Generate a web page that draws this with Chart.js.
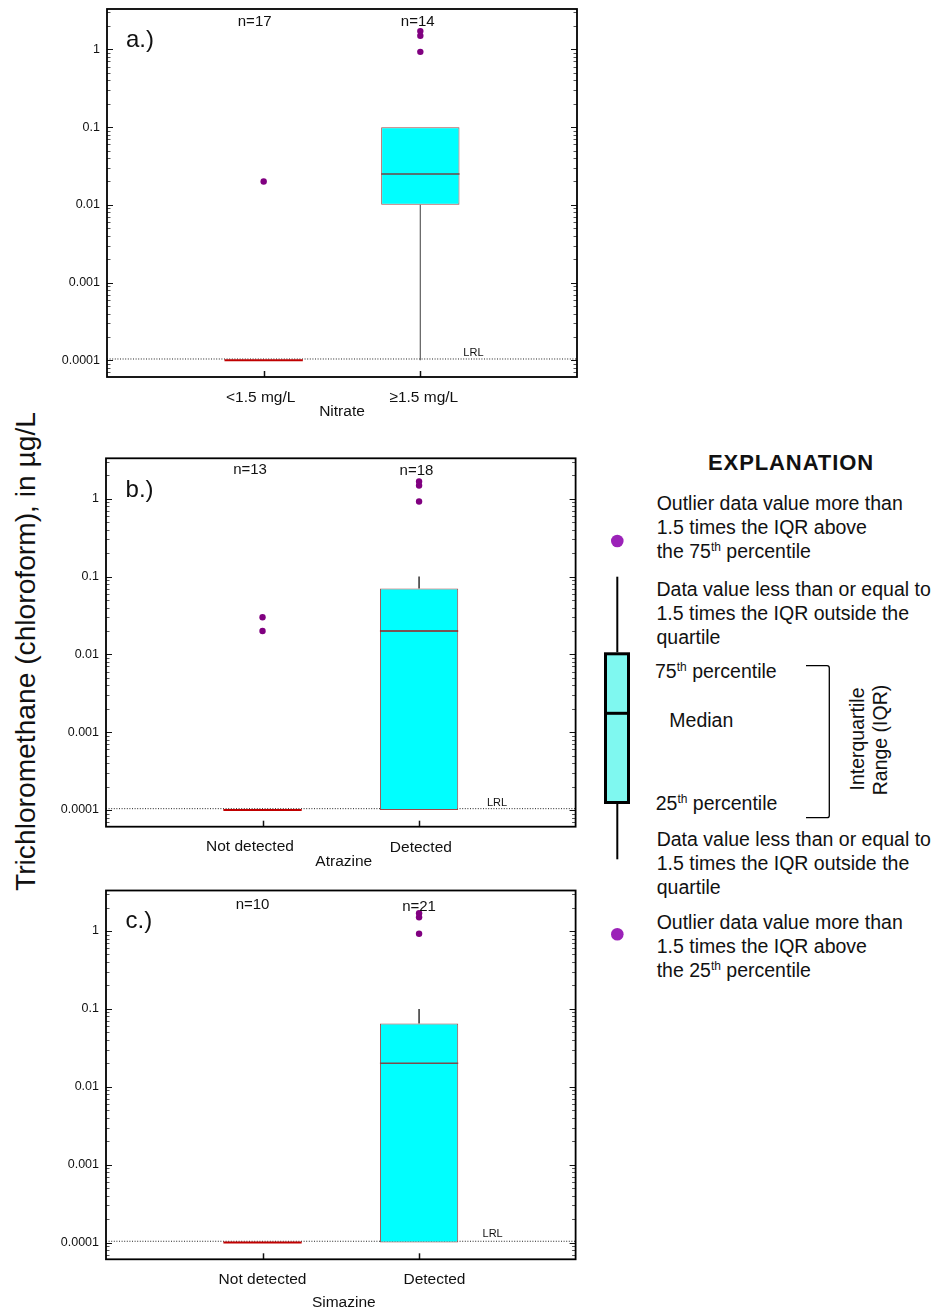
<!DOCTYPE html>
<html>
<head>
<meta charset="utf-8">
<script src="https://cdn.jsdelivr.net/npm/chart.js@4.4.1/dist/chart.umd.min.js"></script>
<style>
html,body{margin:0;padding:0;background:#fff;}
body{width:938px;height:1311px;position:relative;overflow:hidden;font-family:"Liberation Sans",Arial,sans-serif;color:#111;}
canvas{position:absolute;left:0;}
#ov{position:absolute;left:0;top:0;}
.t{position:absolute;font-size:19.5px;line-height:24px;white-space:nowrap;}
.s{font-size:12px;position:relative;top:-7px;}
.h{position:absolute;font-size:22px;font-weight:bold;letter-spacing:0.9px;line-height:26px;white-space:nowrap;}
</style>
</head>
<body>
<svg id="ov" width="938" height="1311">
  <text x="25" y="651.5" transform="rotate(-90 25 651.5)" text-anchor="middle" dominant-baseline="central" font-size="28.2" font-family="Liberation Sans, Arial, sans-serif" fill="#111">Trichloromethane (chloroform), in µg/L</text>
  <circle cx="617.3" cy="541" r="6.3" fill="#9b22b8"/>
  <line x1="617.3" y1="576.7" x2="617.3" y2="652.3" stroke="#000" stroke-width="2"/>
  <rect x="605.5" y="653.8" width="23" height="148.7" fill="#7ff8f0" stroke="#000" stroke-width="3"/>
  <line x1="605.5" y1="713.3" x2="628.5" y2="713.3" stroke="#000" stroke-width="3"/>
  <line x1="617.3" y1="804" x2="617.3" y2="859.3" stroke="#000" stroke-width="2"/>
  <circle cx="617.3" cy="934.3" r="6.3" fill="#9b22b8"/>
  <path d="M806 665.7 H827 Q829.3 665.7 829.3 668 V815.4 Q829.3 817.7 827 817.7 H806" fill="none" stroke="#000" stroke-width="1.3"/>
  <text x="857" y="739" transform="rotate(-90 857 739)" text-anchor="middle" dominant-baseline="central" font-size="19.5" font-family="Liberation Sans, Arial, sans-serif" fill="#111">Interquartile</text>
  <text x="880" y="740" transform="rotate(-90 880 740)" text-anchor="middle" dominant-baseline="central" font-size="19.5" font-family="Liberation Sans, Arial, sans-serif" fill="#111">Range (IQR)</text>
</svg>

<div class="h" style="left:708px;top:449.5px;">EXPLANATION</div>
<div class="t" style="left:656.7px;top:490.7px;">Outlier data value more than</div>
<div class="t" style="left:656.7px;top:515px;">1.5 times the IQR above</div>
<div class="t" style="left:656.7px;top:539px;">the 75<span class="s">th</span> percentile</div>
<div class="t" style="left:656.5px;top:577.3px;">Data value less than or equal to</div>
<div class="t" style="left:656.5px;top:601.3px;">1.5 times the IQR outside the</div>
<div class="t" style="left:656.5px;top:625.3px;">quartile</div>
<div class="t" style="left:655px;top:658.7px;">75<span class="s">th</span> percentile</div>
<div class="t" style="left:669.3px;top:708px;">Median</div>
<div class="t" style="left:655.7px;top:791.3px;">25<span class="s">th</span> percentile</div>
<div class="t" style="left:656.7px;top:827.3px;">Data value less than or equal to</div>
<div class="t" style="left:656.7px;top:851.3px;">1.5 times the IQR outside the</div>
<div class="t" style="left:656.7px;top:875.3px;">quartile</div>
<div class="t" style="left:656.7px;top:909.7px;">Outlier data value more than</div>
<div class="t" style="left:656.7px;top:934.2px;">1.5 times the IQR above</div>
<div class="t" style="left:656.7px;top:958px;">the 25<span class="s">th</span> percentile</div>

<canvas id="ca" width="600" height="441" style="top:-11px;width:600px;height:441px;"></canvas>
<canvas id="cb" width="600" height="442" style="top:438px;width:600px;height:442px;"></canvas>
<canvas id="cc" width="600" height="441" style="top:870px;width:600px;height:441px;"></canvas>

<script>
// ---------------- DATA ----------------
const yTickValues = [0.0001, 0.001, 0.01, 0.1, 1];
const yTickLabels = ['0.0001', '0.001', '0.01', '0.1', '1'];
const LRL_VALUE = 0.000104;
const LRL_LABEL = 'LRL';

// a.) Nitrate
const letterA = 'a.)';
const titleA = 'Nitrate';
const categoriesA = ['<1.5 mg/L', '≥1.5 mg/L'];
const countsA = ['n=17', 'n=14'];
const q1A = [0.0001, 0.01];
const medianA = [0.0001, 0.025];
const q3A = [0.0001, 0.1];
const whiskerLowA = [0.0001, 0.0001];
const whiskerHighA = [0.0001, 0.1];
const outliersA = [[0.02], [0.93, 1.5, 1.72]];

// b.) Atrazine
const letterB = 'b.)';
const titleB = 'Atrazine';
const categoriesB = ['Not detected', 'Detected'];
const countsB = ['n=13', 'n=18'];
const q1B = [0.0001, 0.0001];
const medianB = [0.0001, 0.02];
const q3B = [0.0001, 0.07];
const whiskerLowB = [0.0001, 0.0001];
const whiskerHighB = [0.0001, 0.1];
const outliersB = [[0.02, 0.03], [0.92, 1.48, 1.67]];

// c.) Simazine
const letterC = 'c.)';
const titleC = 'Simazine';
const categoriesC = ['Not detected', 'Detected'];
const countsC = ['n=10', 'n=21'];
const q1C = [0.0001, 0.0001];
const medianC = [0.0001, 0.02];
const q3C = [0.0001, 0.065];
const whiskerLowC = [0.0001, 0.0001];
const whiskerHighC = [0.0001, 0.1];
const outliersC = [[], [0.92, 1.5, 1.69]];

// ---------------- STYLE / LAYOUT ----------------
const FONT = '"Liberation Sans", Arial, sans-serif';
const Y_MIN = 6.1e-5, Y_MAX = 3.31;
const X_MIN = 0, X_MAX = 3;
const BOX_HALF = 0.25;
const CANVAS_W = 600;

const LAYOUTS = [
  {canvasTop: -11, canvasH: 441, areaTop: 9,     areaBottom: 377,    areaLeft: 107, areaRight: 577},
  {canvasTop: 438, canvasH: 442, areaTop: 458.3, areaBottom: 826.7,  areaLeft: 106, areaRight: 575.6},
  {canvasTop: 870, canvasH: 441, areaTop: 890.5, areaBottom: 1259.3, areaLeft: 106, areaRight: 575.6}
];
const TEXTPOS = [
  {letterDx: 19, letterDy: 31, countDx: [-9, -2.6], countDy: [13, 13], labelDx: [-3, 3.5], labelDy: [20.3, 20.3], titleDx: 0, titleDy: 34.7, lrlX: 2.339, lrlDy: 6.5, whisker: '#6a6a6a', median: '#6e4646'},
  {letterDx: 19.6, letterDy: 32, countDx: [-12.5, -2.6], countDy: [11.7, 13], labelDx: [-12.6, 1.8], labelDy: [20, 21.3], titleDx: 3, titleDy: 35.3, lrlX: 2.498, lrlDy: 5.5, whisker: '#111', median: '#a01c1c'},
  {letterDx: 19.6, letterDy: 31.2, countDx: [-10, 0], countDy: [14.8, 16.8], labelDx: [0, 15.4], labelDy: [20.7, 20.7], titleDx: 3, titleDy: 43.7, lrlX: 2.47, lrlDy: 7, whisker: '#111', median: '#7a4c4c'}
];

function buildLogTicks() {
  const ticks = [];
  const decades = [yTickValues[0] / 10].concat(yTickValues);
  decades.forEach(d => {
    if (yTickValues.indexOf(d) >= 0 && d >= Y_MIN && d <= Y_MAX) ticks.push({value: d, major: true});
    for (let m = 2; m <= 9; m++) {
      const v = d * m;
      if (v >= Y_MIN && v <= Y_MAX) ticks.push({value: v, major: false});
    }
  });
  return ticks.sort((a, b) => a.value - b.value);
}

function makePanel(id, L, T, D) {
  const boxData = D.categories.map((c, i) => ({x: i + 1, y: [D.q1[i], D.q3[i]]}));
  const medData = [];
  const flatData = [];
  const whiskData = [];
  const outData = [];
  D.categories.forEach((c, i) => {
    const target = D.q3[i] > D.q1[i] ? medData : flatData;
    target.push({x: i + 1 - BOX_HALF, y: D.median[i]}, {x: i + 1 + BOX_HALF, y: D.median[i]}, {x: i + 1 + BOX_HALF, y: null});
    whiskData.push({x: i + 1, y: D.whiskerLow[i]}, {x: i + 1, y: D.q1[i]}, {x: i + 1, y: null},
                   {x: i + 1, y: D.q3[i]}, {x: i + 1, y: D.whiskerHigh[i]}, {x: i + 1, y: null});
    D.outliers[i].forEach(v => outData.push({x: i + 1, y: v}));
  });
  const lrlData = [{x: X_MIN, y: LRL_VALUE}, {x: X_MAX, y: LRL_VALUE}];

  const decor = {
    id: 'decor_' + id,
    afterDraw(chart) {
      const c = chart.ctx, a = chart.chartArea, xs = chart.scales.x, ys = chart.scales.y;
      c.save();
      c.lineWidth = 1;
      ys.ticks.forEach(t => {
        const py = Math.round(ys.getPixelForValue(t.value)) + 0.5;
        const len = t.major ? 6 : 3.5;
        c.strokeStyle = t.major ? '#111' : '#555';
        c.beginPath();
        c.moveTo(a.left, py); c.lineTo(a.left + len, py);
        c.moveTo(a.right - len, py); c.lineTo(a.right, py);
        c.stroke();
      });
      c.strokeStyle = '#111'; c.lineWidth = 1.5;
      xs.ticks.forEach(t => {
        const px = Math.round(xs.getPixelForValue(t.value)) + 0.5;
        c.beginPath(); c.moveTo(px, a.bottom); c.lineTo(px, a.bottom - 6); c.stroke();
      });
      c.lineWidth = 1.8; c.strokeStyle = '#000';
      c.strokeRect(a.left, a.top, a.right - a.left, a.bottom - a.top);
      c.fillStyle = '#111'; c.textBaseline = 'middle'; c.textAlign = 'center';
      c.font = '15.5px ' + FONT;
      D.categories.forEach((lab, i) => c.fillText(lab, xs.getPixelForValue(i + 1) + T.labelDx[i], a.bottom + T.labelDy[i]));
      c.fillText(D.title, (a.left + a.right) / 2 + T.titleDx, a.bottom + T.titleDy);
      c.font = '15px ' + FONT;
      D.counts.forEach((lab, i) => c.fillText(lab, xs.getPixelForValue(i + 1) + T.countDx[i], a.top + T.countDy[i]));
      c.font = '11px ' + FONT;
      c.fillText(LRL_LABEL, xs.getPixelForValue(T.lrlX), ys.getPixelForValue(LRL_VALUE) - T.lrlDy);
      c.font = '24px ' + FONT; c.textAlign = 'left';
      c.fillText(D.letter, a.left + T.letterDx, a.top + T.letterDy);
      c.restore();
    }
  };

  return new Chart(document.getElementById(id), {
    type: 'bar',
    data: {
      datasets: [
        {type: 'line', label: 'LRL', data: lrlData, borderColor: '#222', borderWidth: 1, borderDash: [1, 1.6], pointRadius: 0, order: 6},
        {type: 'line', label: 'Whiskers', data: whiskData, borderColor: T.whisker, borderWidth: 1.3, pointRadius: 0, spanGaps: false, order: 5},
        {type: 'bar', label: 'IQR', data: boxData, backgroundColor: '#00ffff', borderColor: '#a34848', borderWidth: 1, borderSkipped: false, categoryPercentage: 1, barPercentage: 0.5, order: 4},
        {type: 'line', label: 'Zero IQR', data: flatData, borderColor: '#c00000', borderWidth: 2, pointRadius: 0, spanGaps: false, order: 3},
        {type: 'line', label: 'Median', data: medData, borderColor: T.median, borderWidth: 1.5, pointRadius: 0, spanGaps: false, order: 2},
        {type: 'line', label: 'Outliers', data: outData, showLine: false, pointRadius: 3.2, pointBackgroundColor: '#800080', pointBorderWidth: 0, pointBorderColor: '#800080', order: 1}
      ]
    },
    options: {
      responsive: false, animation: false, devicePixelRatio: 1, events: [],
      layout: {padding: {left: 0, right: CANVAS_W - L.areaRight, top: L.areaTop - L.canvasTop, bottom: 0}},
      plugins: {legend: {display: false}, tooltip: {enabled: false}},
      scales: {
        x: {
          type: 'linear', min: X_MIN, max: X_MAX, offset: false,
          grid: {display: false, drawTicks: false, offset: false}, border: {display: false},
          ticks: {display: false},
          afterBuildTicks: s => { s.ticks = D.categories.map((c, i) => ({value: i + 1})); },
          afterFit: s => { s.height = L.canvasTop + L.canvasH - L.areaBottom; }
        },
        y: {
          type: 'logarithmic', min: Y_MIN, max: Y_MAX,
          grid: {display: false, drawTicks: false}, border: {display: false},
          ticks: {
            autoSkip: false, padding: 7, color: '#111', font: {family: FONT, size: 12.5},
            callback: (value, index, ticks) => {
              const t = ticks[index];
              if (!t || !t.major) return '';
              const k = yTickValues.indexOf(t.value);
              return k >= 0 ? yTickLabels[k] : '';
            }
          },
          afterBuildTicks: s => { s.ticks = buildLogTicks(); },
          afterFit: s => { s.width = L.areaLeft; }
        }
      }
    },
    plugins: [decor]
  });
}

makePanel('ca', LAYOUTS[0], TEXTPOS[0], {letter: letterA, title: titleA, categories: categoriesA, counts: countsA, q1: q1A, median: medianA, q3: q3A, whiskerLow: whiskerLowA, whiskerHigh: whiskerHighA, outliers: outliersA});
makePanel('cb', LAYOUTS[1], TEXTPOS[1], {letter: letterB, title: titleB, categories: categoriesB, counts: countsB, q1: q1B, median: medianB, q3: q3B, whiskerLow: whiskerLowB, whiskerHigh: whiskerHighB, outliers: outliersB});
makePanel('cc', LAYOUTS[2], TEXTPOS[2], {letter: letterC, title: titleC, categories: categoriesC, counts: countsC, q1: q1C, median: medianC, q3: q3C, whiskerLow: whiskerLowC, whiskerHigh: whiskerHighC, outliers: outliersC});
</script>
</body>
</html>
